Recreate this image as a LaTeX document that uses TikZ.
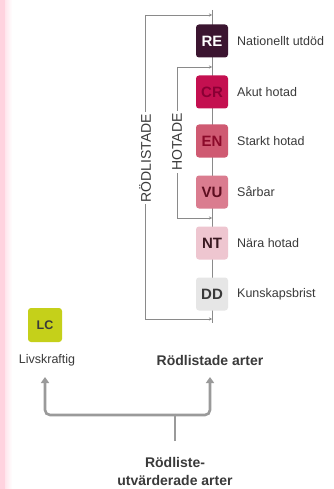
\documentclass[tikz,border=0pt]{standalone}
\usepackage{fontspec}
\setmainfont{Liberation Sans}
\usetikzlibrary{arrows.meta}
\definecolor{cRE}{HTML}{3B1530}
\definecolor{cCR}{HTML}{C41050}
\definecolor{tCR}{HTML}{8A0034}
\definecolor{cEN}{HTML}{CF5A72}
\definecolor{tEN}{HTML}{8B0A2A}
\definecolor{cVU}{HTML}{DA7C8F}
\definecolor{tVU}{HTML}{5E0E20}
\definecolor{cNT}{HTML}{EEC6D0}
\definecolor{tNT}{HTML}{3A1A22}
\definecolor{cDD}{HTML}{E6E6E6}
\definecolor{cLC}{HTML}{C5D01A}
\definecolor{linec}{HTML}{8A8A8A}
\definecolor{txt}{HTML}{3A3A3A}
\definecolor{arrc}{HTML}{9A9A9A}
\definecolor{strip}{HTML}{FFD3DF}
\tikzset{
  catbox/.style={minimum width=32pt, minimum height=33pt, rounded corners=3pt, inner sep=0pt, font=\fontsize{15}{15}\selectfont\bfseries},
  lbl/.style={anchor=west, inner sep=0pt, text=txt, font=\fontsize{12.5}{13}\selectfont},
  conn/.style={draw=linec, line width=0.6pt},
  connarr/.style={conn, -{Stealth[length=3pt,width=3pt]}},
  vlab/.style={rotate=90, fill=white, inner sep=2pt, text=txt, font=\fontsize{14}{14}\selectfont},
  bigarr/.style={draw=arrc, line width=2.6pt, rounded corners=5pt},
  bold/.style={text=txt, font=\fontsize{14}{18}\selectfont\bfseries, align=center}
}
\begin{document}
\begin{tikzpicture}[x=1pt,y=-1pt]
\useasboundingbox (0,0) rectangle (334,489);
\fill[white] (0,0) rectangle (334,489);
\shade[left color=strip, right color=white] (0,0) rectangle (12,489);
\fill[strip] (0,0) rectangle (5,489);

% coordinates
\coordinate (ctop) at (212,10);
\coordinate (cbot) at (212,323);
\coordinate (o1) at (145,15);
\coordinate (o2) at (145,319);
\coordinate (oe1) at (212,15);
\coordinate (oe2) at (212,319);
\coordinate (i1) at (177,67);
\coordinate (i2) at (177,218);
\coordinate (ie1) at (212,67);
\coordinate (ie2) at (212,218);

\draw[conn] (ctop) -- (cbot);
\draw[connarr] (o2) -- (o1) -- (oe1);
\draw[connarr] (o1) -- (o2) -- (oe2);
\draw[connarr] (i2) -- (i1) -- (ie1);
\draw[connarr] (i1) -- (i2) -- (ie2);

\node[vlab] (rodl) at (145,158) {RÖDLISTADE};
\node[vlab] (hot) at (177,142) {HOTADE};

\node[catbox, fill=cRE, text=white] (re) at (212,41) {RE};
\node[catbox, fill=cCR, text=tCR] (cr) at (212,92) {CR};
\node[catbox, fill=cEN, text=tEN] (en) at (212,141) {EN};
\node[catbox, fill=cVU, text=tVU] (vu) at (212,192) {VU};
\node[catbox, fill=cNT, text=tNT] (nt) at (212,243) {NT};
\node[catbox, fill=cDD, text=txt] (dd) at (212,294) {DD};

\node[lbl] (lre) at (237,41) {Nationellt utdöd};
\node[lbl] (lcr) at (237,92) {Akut hotad};
\node[lbl] (len) at (237,141) {Starkt hotad};
\node[lbl] (lvu) at (237,192) {Sårbar};
\node[lbl] (lnt) at (237,243) {Nära hotad};
\node[lbl] (ldd) at (237,294) {Kunskapsbrist};

\node[catbox, minimum width=34pt, minimum height=34pt, fill=cLC, text=txt, font=\fontsize{12.5}{12.5}\selectfont\bfseries] (lc) at (45,325) {LC};
\node[text=txt, font=\fontsize{12.5}{13}\selectfont, inner sep=1pt] (lcl) at (47,360) {Livskraftig};
\node[bold, inner sep=1pt] (rart) at (210,360) {Rödlistade arter};

\node[bold, inner sep=0pt] (src) at (175,471) {Rödliste-\\utvärderade arter};

\coordinate (j) at (175,415);
\coordinate (stem) at (175,441);
\coordinate (ta) at (45,377);
\coordinate (tb) at (210,377);
\draw[bigarr] (stem) -- (j);
\draw[bigarr, -{Triangle[length=6pt,width=8pt]}] (j) -- (45,415) -- (ta);
\draw[bigarr, -{Triangle[length=6pt,width=8pt]}] (j) -- (210,415) -- (tb);
\end{tikzpicture}
\end{document}
